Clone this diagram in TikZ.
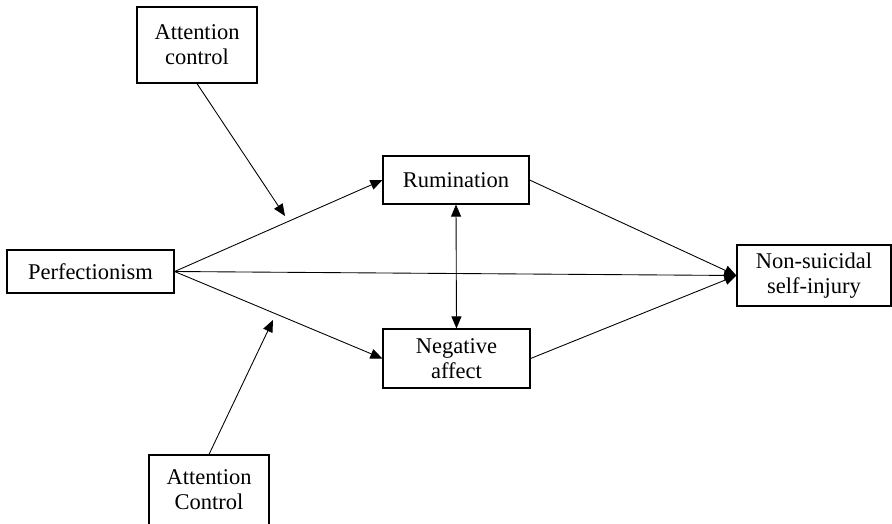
\documentclass[tikz,border=0pt]{standalone}
\usepackage{fontspec}
\setmainfont{Liberation Serif}
\usepackage{tikz}
\usetikzlibrary{arrows,arrows.meta,shapes}

\begin{document}
\begin{tikzpicture}[x=0.03cm,y=-0.03cm,
    varbox/.style={draw,line width=1pt,inner sep=0pt,align=center,font=\fontsize{19.2}{21.5}\selectfont},
    path/.style={line width=0.75pt,-{Triangle[length=0.36cm,width=0.3cm]}}]
    \useasboundingbox (0,0) rectangle (892,523);
    % variables
    \node[varbox,minimum width=3.6cm,minimum height=2.28cm] (attA) at (197,45) {Attention\\control};
    \node[varbox,minimum width=5.01cm,minimum height=1.29cm] (perf) at (90.5,271.5) {Perfectionism};
    \node[varbox,minimum width=4.38cm,minimum height=1.44cm] (rum) at (456,180) {Rumination};
    \node[varbox,minimum width=4.41cm,minimum height=1.77cm] (negaff) at (456.5,358.5) {Negative\\affect};
    \node[varbox,minimum width=4.62cm,minimum height=1.83cm] (nssi) at (814,275.5) {Non-suicidal\\self-injury};
    \node[varbox,minimum width=3.6cm,minimum height=2.1cm] (attB) at (209,490) {Attention\\Control};
    % moderation points
    \coordinate (modA) at (285,216);
    \coordinate (modB) at (273,320);
    % paths
    \draw[path] (perf.east) -- (rum.west);
    \draw[path] (perf.east) -- (negaff.west);
    \draw[path] (perf.east) -- (nssi.west);
    \draw[path] (rum.east) -- (nssi.west);
    \draw[path] (negaff.east) -- (nssi.west);
    \draw[path,{Triangle[length=0.36cm,width=0.3cm]}-{Triangle[length=0.36cm,width=0.3cm]}] (rum.south) -- (negaff.north);
    \draw[path] (attA.south) -- (modA);
    \draw[path] (attB.north) -- (modB);
\end{tikzpicture}
\end{document}
